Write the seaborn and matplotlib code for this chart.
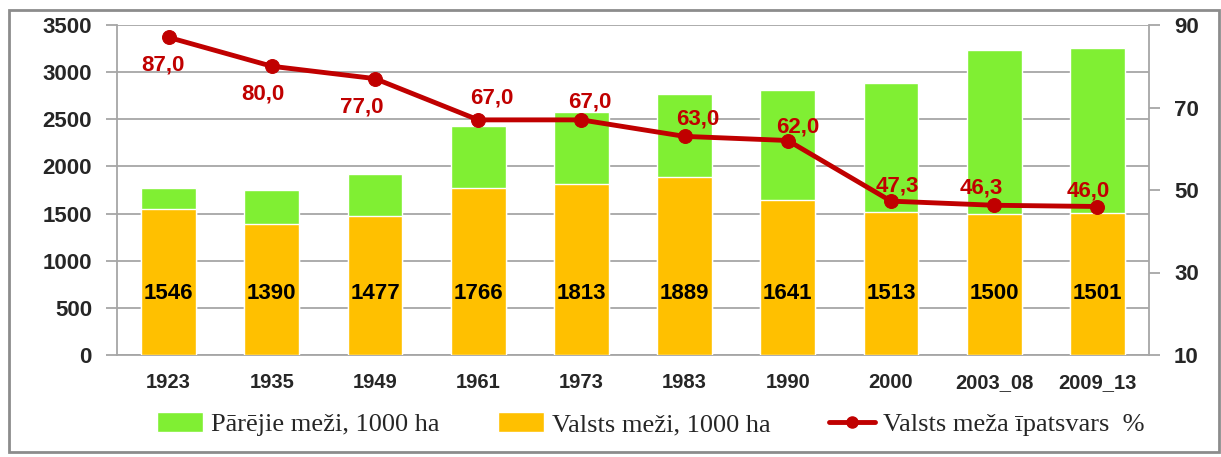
import numpy as np
import pandas as pd
import seaborn as sns
import matplotlib.pyplot as plt
from matplotlib.patches import Patch, Rectangle
from matplotlib.lines import Line2D

years = ["1923", "1935", "1949", "1961", "1973", "1983", "1990", "2000", "2003_08", "2009_13"]
valsts = [1546, 1390, 1477, 1766, 1813, 1889, 1641, 1513, 1500, 1501]
parejie = [227, 358, 438, 665, 766, 878, 1172, 1368, 1734, 1758]
ipatsvars = [87.0, 80.0, 77.0, 67.0, 67.0, 63.0, 62.0, 47.3, 46.3, 46.0]
pct_labels = ["87,0", "80,0", "77,0", "67,0", "67,0", "63,0", "62,0", "47,3", "46,3", "46,0"]

GREEN = "#80EF33"
ORANGE = "#FFC000"
RED = "#C00000"

sns.set_style("white")
plt.rcParams["font.family"] = ["Liberation Sans", "DejaVu Sans"]

df = pd.DataFrame({"gads": years, "valsts": valsts, "parejie": parejie})
df["kopa"] = df["valsts"] + df["parejie"]

fig = plt.figure(figsize=(12.21, 4.57), dpi=100)
ax = fig.add_axes([117 / 1221, 1 - 355 / 457, (1149 - 117) / 1221, 330 / 457])

sns.barplot(data=df, x="gads", y="kopa", color=GREEN, width=0.53, saturation=1, ax=ax, zorder=2)
sns.barplot(data=df, x="gads", y="valsts", color=ORANGE, width=0.53, saturation=1, ax=ax, zorder=3)
# value labels sit at the same height in every bar
for i, v in enumerate(valsts):
    ax.text(i, 650, str(v), ha="center", va="center", fontsize=16, fontweight="bold", color="black", zorder=4)

ax.set_ylim(0, 3500)
ax.set_yticks(range(0, 3501, 500))
ax.set_xlim(-0.5, len(years) - 0.5)
ax.grid(axis="y", color="#A6A6A6", linewidth=1.3, zorder=0)
ax.set_axisbelow(True)
ax.set_xlabel("")
ax.set_ylabel("")
for s in ["top", "right"]:
    ax.spines[s].set_visible(False)
for s in ["left", "bottom"]:
    ax.spines[s].set_color("#A6A6A6")
    ax.spines[s].set_linewidth(1.3)
ax.tick_params(axis="y", length=8, color="#A6A6A6", width=1.3, labelsize=16, pad=10)
ax.tick_params(axis="x", length=0, labelsize=14.5, pad=13)
for t in ax.get_yticklabels() + ax.get_xticklabels():
    t.set_fontweight("bold")
# category separators on the x axis
ax.set_xticks(np.arange(-0.5, len(years), 1), minor=True)
ax.tick_params(axis="x", which="minor", length=8, color="#A6A6A6", width=1.3)

ax2 = ax.twinx()
sns.lineplot(x=np.arange(len(years)), y=ipatsvars, color=RED, linewidth=3.5, marker="o",
             markersize=10, markeredgecolor=RED, ax=ax2, zorder=5)
ax2.set_ylim(10, 90)
ax2.set_yticks([10, 30, 50, 70, 90])
ax2.set_xlim(-0.5, len(years) - 0.5)
ax2.set_ylabel("")
for s in ["top", "left", "bottom"]:
    ax2.spines[s].set_visible(False)
ax2.spines["right"].set_color("#A6A6A6")
ax2.spines["right"].set_linewidth(1.3)
ax2.tick_params(axis="y", length=8, color="#A6A6A6", width=1.3, labelsize=16, pad=10)
for t in ax2.get_yticklabels():
    t.set_fontweight("bold")

offsets = [(-6, -28), (-9, -28), (-13, -28), (14, 22), (8, 18), (13, 17), (10, 13), (6, 15), (-13, 17), (-9, 15)]
for i, (v, lab) in enumerate(zip(ipatsvars, pct_labels)):
    ax2.annotate(lab, (i, v), xytext=offsets[i], textcoords="offset pixels", ha="center", va="center",
                 fontsize=16, fontweight="bold", color=RED, zorder=6)

handles = [Patch(facecolor=GREEN), Patch(facecolor=ORANGE),
           Line2D([], [], color=RED, linewidth=3.5, marker="o", markersize=8)]
names = ["Pārējie meži, 1000 ha", "Valsts meži, 1000 ha", "Valsts meža īpatsvars  %"]
fig.legend(handles, names, loc="center", bbox_to_anchor=(0.533, 1 - 424 / 457), ncol=3, frameon=False,
           prop={"family": "Liberation Serif", "size": 19}, handlelength=1.75, handleheight=0.8,
           columnspacing=2.2, handletextpad=0.3)

fig.patches.append(Rectangle((9 / 1221, 1 - 452 / 457), 1210 / 1221, 442 / 457, transform=fig.transFigure,
                             fill=False, edgecolor="#8C8C8C", linewidth=2))

fig.savefig("out.png", dpi=100)
